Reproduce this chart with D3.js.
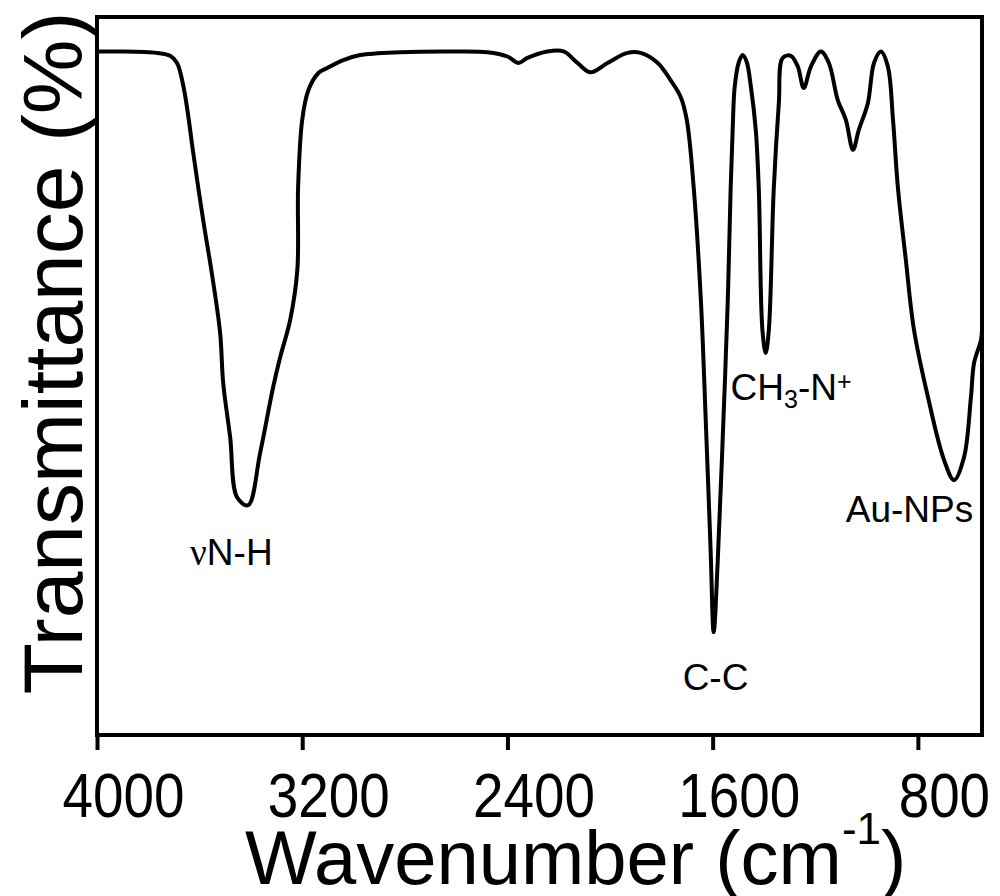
<!DOCTYPE html>
<html>
<head>
<meta charset="utf-8">
<script src="https://cdn.jsdelivr.net/npm/d3@7"></script>
<style>
  body { margin: 0; background: #fff; }
  svg { display: block; font-family: "Liberation Sans", Arial, sans-serif; }
</style>
</head>
<body>
<div id="chart"></div>
<script>
// FTIR spectrum
const wavenumber = [4000, 3922, 3766, 3715, 3688, 3664, 3645, 3625, 3586, 3551,
  3520, 3508, 3481, 3454, 3411, 3364, 3313, 3286, 3247, 3219,
  3216, 3200, 3176, 3137, 3102, 3040, 2974, 2817, 2622, 2478,
  2400, 2357, 2322, 2244, 2181, 2127, 2076, 2010, 1932, 1881,
  1814, 1764, 1725, 1701, 1674, 1646, 1627, 1608, 1596, 1580,
  1561, 1541, 1530, 1522, 1514, 1498, 1483, 1467, 1451, 1432,
  1420, 1406, 1393, 1381, 1362, 1342, 1327, 1295, 1268, 1245,
  1217, 1178, 1147, 1112, 1081, 1053, 1030, 995, 971, 944,
  917, 897, 878, 847, 815, 761, 698, 659, 620, 593,
  581, 554, 550];
const transmittance = [95.2, 95.2, 95.0, 94.6, 93.6, 90.5, 86.4, 81.1, 71.7, 64.0,
  56.0, 49.0, 41.5, 33.1, 32.0, 39.3, 48.5, 52.6, 57.8, 64.8,
  76.3, 85.7, 89.8, 92.2, 92.9, 94.0, 94.7, 95.1, 95.2, 95.1,
  94.5, 93.6, 94.3, 95.2, 95.2, 93.6, 92.3, 93.6, 95.0, 95.0,
  93.6, 91.2, 88.9, 85.7, 76.3, 60.6, 43.9, 25.8, 14.3, 24.4,
  41.1, 60.6, 75.9, 84.3, 90.3, 93.7, 94.7, 93.7, 90.3, 84.3,
  75.9, 56.4, 53.2, 56.4, 75.9, 88.0, 94.3, 94.6, 93.1, 90.1,
  93.1, 95.2, 93.6, 88.4, 85.7, 81.5, 84.3, 88.0, 93.6, 95.2,
  93.1, 85.7, 76.3, 66.2, 56.4, 47.1, 38.3, 35.5, 38.7, 47.1,
  51.8, 55.0, 56.4];

const xTicks = [4000, 3200, 2400, 1600, 800];

// peak labels, anchored at (wavenumber, transmittance) of their left baseline
const annotations = [
  {label: "N-H", prefix: "\u03bd", w: 3637, t: 23.7},
  {label: "C-C", w: 1717, t: 6.3},
  {label: "CH", sub: "3", rest: "-N", sup: "+", w: 1530, t: 46.7},
  {label: "Au-NPs", w: 1081, t: 29.7}
];

const W = 1000, H = 896;
const MARGIN = {left: 97, right: 18, top: 17, bottom: 161};

const svg = d3.select("#chart").append("svg")
  .attr("width", W).attr("height", H);

const xScale = d3.scaleLinear()
  .domain([4000, 550])
  .range([MARGIN.left, W - MARGIN.right]);
const yScale = d3.scaleLinear()
  .domain([0, 100])
  .range([H - MARGIN.bottom, MARGIN.top]);

// frame
svg.append("rect")
  .attr("x", MARGIN.left).attr("y", MARGIN.top)
  .attr("width", W - MARGIN.left - MARGIN.right)
  .attr("height", H - MARGIN.top - MARGIN.bottom)
  .attr("fill", "none").attr("stroke", "#000").attr("stroke-width", 4);

// x axis
const xAxisG = svg.append("g")
  .attr("transform", `translate(0,${H - MARGIN.bottom})`)
  .call(d3.axisBottom(xScale).tickValues(xTicks).tickSize(15).tickSizeOuter(0).tickFormat(d3.format("d")));
xAxisG.select(".domain").remove();
xAxisG.selectAll(".tick line").attr("stroke", "#000").attr("stroke-width", 4);
xAxisG.selectAll(".tick text")
  .attr("y", 0).attr("dy", 0)
  .attr("transform", "translate(26,82) scale(0.87,1)")
  .attr("font-size", 63)
  .attr("font-family", "Liberation Sans, Arial, sans-serif")
  .attr("fill", "#000");

// spectrum
const line = d3.line()
  .x(d => xScale(d[0]))
  .y(d => yScale(d[1]))
  .curve(d3.curveCatmullRom.alpha(0.5));

svg.append("path")
  .datum(wavenumber.map((w, i) => [w, transmittance[i]]))
  .attr("d", line)
  .attr("fill", "none")
  .attr("stroke", "#000")
  .attr("stroke-width", 4)
  .attr("stroke-linejoin", "round");

annotations.forEach(a => {
  const t = svg.append("text")
    .attr("x", xScale(a.w)).attr("y", yScale(a.t))
    .attr("font-size", 37).attr("fill", "#000");
  if (a.prefix) {
    t.append("tspan").attr("font-family", "Liberation Serif, serif").text(a.prefix);
  }
  t.append("tspan").text(a.label);
  if (a.sub) {
    t.append("tspan").attr("font-size", 25).attr("dy", 8).text(a.sub);
    t.append("tspan").attr("dy", -8).text(a.rest);
    t.append("tspan").attr("font-size", 25).attr("dy", -10).text(a.sup);
  }
});

// axis titles
const xTitle = svg.append("text")
  .attr("x", 245).attr("y", 884)
  .attr("font-size", 76).attr("fill", "#000");
xTitle.append("tspan").text("Wavenumber (cm");
xTitle.append("tspan").attr("font-size", 44).attr("dy", -40).text("-1");
xTitle.append("tspan").attr("dy", 40).text(")");

svg.append("text")
  .attr("transform", "translate(82,353) rotate(-90)")
  .attr("text-anchor", "middle")
  .attr("font-size", 84).attr("fill", "#000")
  .text("Transmittance (%)");
</script>
</body>
</html>
